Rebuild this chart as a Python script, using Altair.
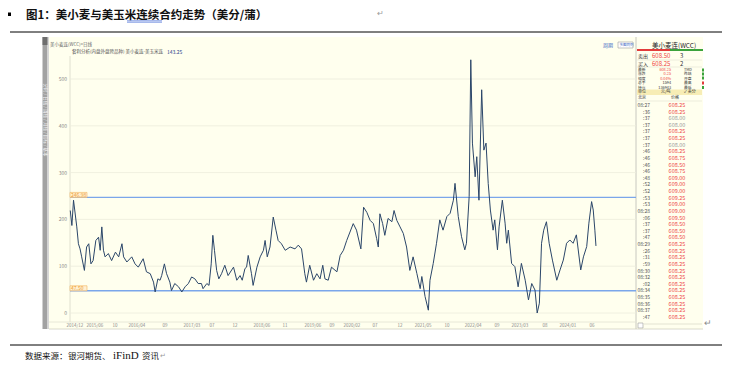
import altair as alt
import pandas as pd

# ---------------- data ----------------
t = [2014.83, 2014.86, 2014.89, 2014.95, 2014.98, 2015.01, 2015.04, 2015.09, 2015.13, 2015.17,
     2015.21, 2015.25, 2015.30, 2015.35, 2015.38, 2015.41, 2015.44, 2015.47, 2015.53, 2015.59,
     2015.66, 2015.72, 2015.78, 2015.81, 2015.87, 2015.96, 2016.02, 2016.08, 2016.17, 2016.23,
     2016.30, 2016.36, 2016.39, 2016.44, 2016.48, 2016.51, 2016.56, 2016.60, 2016.66, 2016.69,
     2016.75, 2016.82, 2016.88, 2016.94, 2017.00, 2017.06, 2017.12, 2017.18, 2017.24, 2017.27,
     2017.34, 2017.38, 2017.42, 2017.45, 2017.48, 2017.52, 2017.56, 2017.61, 2017.67, 2017.73,
     2017.83, 2017.89, 2017.95, 2017.99, 2018.04, 2018.07, 2018.10, 2018.16, 2018.19, 2018.26,
     2018.32, 2018.38, 2018.41, 2018.45, 2018.50, 2018.56, 2018.61, 2018.65, 2018.71, 2018.78,
     2018.87, 2018.96, 2019.02, 2019.08, 2019.14, 2019.17, 2019.23, 2019.30, 2019.36, 2019.42,
     2019.47, 2019.51, 2019.57, 2019.63, 2019.73, 2019.79, 2019.85, 2019.91, 2019.97, 2020.03,
     2020.09, 2020.17, 2020.22, 2020.28, 2020.34, 2020.40, 2020.46, 2020.49, 2020.52, 2020.57,
     2020.61, 2020.67, 2020.74, 2020.78, 2020.83, 2020.89, 2020.95, 2021.01, 2021.07, 2021.13,
     2021.20, 2021.26, 2021.29, 2021.35, 2021.41, 2021.44, 2021.50, 2021.56, 2021.62, 2021.68,
     2021.75, 2021.81, 2021.87, 2021.90, 2021.96, 2022.02, 2022.08, 2022.11, 2022.16, 2022.19,
     2022.22, 2022.27, 2022.30, 2022.34, 2022.39, 2022.43, 2022.47, 2022.51, 2022.55, 2022.60,
     2022.63, 2022.68, 2022.71, 2022.77, 2022.82, 2022.85, 2022.88, 2022.94, 2023.00, 2023.06,
     2023.12, 2023.19, 2023.25, 2023.31, 2023.37, 2023.41, 2023.45, 2023.49, 2023.53, 2023.58,
     2023.63, 2023.69, 2023.77, 2023.83, 2023.89, 2023.95, 2024.01, 2024.07, 2024.13, 2024.21,
     2024.26, 2024.32, 2024.36, 2024.41, 2024.44, 2024.47, 2024.49]
spread = [219, 187, 241, 184, 148, 137, 120, 91, 141, 148,
          105, 112, 155, 162, 134, 184, 134, 120, 127, 112,
          130, 120, 148, 120, 109, 120, 105, 98, 116, 88,
          84, 66, 45, 73, 70, 80, 105, 84, 66, 48,
          63, 56, 45, 56, 63, 77, 73, 63, 63, 52,
          63, 59, 105, 166, 134, 91, 73, 84, 102, 80,
          98, 70, 80, 70, 95, 98, 123, 84, 59, 98,
          120, 134, 155, 120, 141, 205, 177, 155, 148, 134,
          141, 137, 145, 137, 84, 66, 102, 70, 84, 73,
          102, 73, 70, 98, 88, 123, 134, 155, 173, 191,
          177, 137, 226, 215, 198, 191, 159, 141, 212, 191,
          166, 202, 195, 219, 198, 184, 170, 141, 91, 120,
          84, 52, 78, 35, 6, 70, 106, 149, 199, 177,
          206, 213, 241, 277, 206, 163, 135, 149, 249, 541,
          363, 291, 334, 241, 477, 348, 363, 277, 220, 177,
          199, 135, 184, 241, 192, 149, 177, 106, 99, 56,
          106, 70, 28, 63, 49, 0, 21, 149, 177, 195,
          149, 113, 70, 92, 113, 149, 156, 149, 167, 92,
          120, 142, 192, 238, 220, 177, 143.25]

y_ticks = [0, 100, 200, 300, 400, 500]
ref_values = [246.98, 47.50]
ref_labels = ["246.98", "47.50"]

x_tick_pos = [2014.917, 2015.284, 2015.652, 2016.056, 2016.571, 2017.067, 2017.434, 2017.857,
              2018.353, 2018.776, 2019.290, 2019.639, 2020.007, 2020.430, 2020.889, 2021.312,
              2021.753, 2022.231, 2022.672, 2023.094, 2023.553, 2023.976, 2024.417]
x_tick_text = ["2014/12", "2015/06", "10", "2016/04", "09", "2017/03", "07", "12",
               "2018/06", "11", "2019/06", "09", "2020/02", "07", "12", "2021/05",
               "10", "2022/04", "09", "2023/03", "08", "2024/01", "06"]

quote_names = ["最新", "涨跌", "幅度", "总手", "持仓"]
quote_vals = ["608.25", "0.25", "0.04%", "1594", "136943"]
quote_right = ["TMD", "昨结", "开盘", "最高", "最低"]
tick_times = ["08:27", ":36", ":37", ":37", ":37", ":37", ":37", ":46", ":46", ":46", ":46",
              ":48", ":52", ":52", ":53", ":53", "08:28", ":06", ":37", ":37", ":47", "08:29",
              ":26", ":31", ":59", "08:30", "08:32", ":02", "08:34", "08:35", "08:36", "08:37", ":47"]
tick_prices = ["608.25", "608.25", "608.00", "608.00", "608.25", "608.25", "608.00", "608.25",
               "608.75", "608.50", "608.75", "609.00", "609.00", "609.00", "609.25", "609.00",
               "609.00", "609.50", "608.50", "608.50", "608.50", "608.25", "608.25", "608.25",
               "608.25", "608.25", "608.25", "608.25", "608.25", "608.25", "608.25", "608.25",
               "608.25"]

# ---------------- layout helpers ----------------
W, H = 714, 352
OFF = 8  # page margin
FONT = "Noto Sans CJK SC"
SERIF = "Liberation Serif"
XS = alt.Scale(domain=[2013.686, 2026.806], nice=False, zero=False)
YS = alt.Scale(domain=[-100.4, 651.7], nice=False, zero=False)


def rects(rows, stroke=None):
    df = pd.DataFrame(rows, columns=["x", "y", "x2", "y2", "c"])
    for k in ["x", "x2", "y", "y2"]:
        df[k] = df[k] - OFF
    kw = {} if stroke is None else {"stroke": stroke, "strokeWidth": 0.6}
    return alt.Chart(df).mark_rect(**kw).encode(
        x=alt.X("x:Q", scale=None, axis=None), x2="x2:Q",
        y=alt.Y("y:Q", scale=None, axis=None), y2="y2:Q",
        color=alt.Color("c:N", scale=None))


def segs(rows, dash=None):
    df = pd.DataFrame(rows, columns=["x", "y", "x2", "y2", "c", "w"])
    for k in ["x", "x2", "y", "y2"]:
        df[k] = df[k] - OFF
    kw = {} if dash is None else {"strokeDash": dash}
    return alt.Chart(df).mark_rule(**kw).encode(
        x=alt.X("x:Q", scale=None, axis=None), x2="x2:Q",
        y=alt.Y("y:Q", scale=None, axis=None), y2="y2:Q",
        color=alt.Color("c:N", scale=None),
        strokeWidth=alt.StrokeWidth("w:Q", scale=None))


def texts(rows, align="left", weight="normal", font=FONT, angle=0):
    df = pd.DataFrame(rows, columns=["x", "y", "t", "c", "s"])
    df["x"] = df["x"] - OFF
    df["y"] = df["y"] - OFF
    return alt.Chart(df).mark_text(align=align, baseline="middle", font=font,
                                   fontWeight=weight, angle=angle).encode(
        x=alt.X("x:Q", scale=None, axis=None), y=alt.Y("y:Q", scale=None, axis=None),
        text="t:N", color=alt.Color("c:N", scale=None), size=alt.Size("s:Q", scale=None))


YEL = "#FFFFEE"
RED = "#EE4444"
GRID = "#ECECDC"

layers = []

# backgrounds
layers.append(rects([
    (49, 37, 703, 329, YEL),
    (42.5, 37, 47.5, 329, "#A2A2A2"),
    (47.5, 37, 49, 329, "#D6D6D6"),
    (42.5, 37, 47.5, 45, "#6E6E6E"),
    (637, 49, 670, 51, "#E23B3B"),
    (670, 49, 703, 51, "#3BA33B"),
    (637, 89.5, 702, 95, "#F7EDB5"),
    (702, 68.5, 704, 71.5, "#3BA33B"),
    (702, 72.5, 704, 75.5, "#3BA33B"),
    (702, 76.5, 704, 79.5, "#3BA33B"),
    (702, 81.5, 704, 84.5, "#E23B3B"),
    (702, 86, 704, 89, "#3BA33B"),
]))
layers.append(rects([(618, 42, 633, 48, "#FFFFFF"), (638, 323, 643, 328, "#FFFFFF")], stroke="#9A9A9A"))

# document lines / frame lines
layers.append(segs([
    (10, 32, 722, 32, "#000000", 1),
    (10, 345, 722, 345, "#000000", 1),
    (636, 37, 636, 329, "#C8C8C0", 1),
    (70, 56, 70, 322, "#D8D8C8", 0.8),
    (49, 322, 636, 322, "#E2E2D2", 0.8),
    (49, 329, 703, 329, "#D0D0C0", 0.8),
    (637, 60, 702, 60, "#E0E0D0", 0.6),
    (637, 67, 702, 67, "#E0E0D0", 0.6),
    (637, 101, 702, 101, "#E0E0D0", 0.6),
    (644, 324, 702, 324, "#D0D0C0", 0.6),
    (127, 20.8, 162, 20.8, "#4A6FD8", 0.7),
    (127, 22.2, 162, 22.2, "#4A6FD8", 0.7),
]))
layers.append(segs([(113, 360.5, 139, 360.5, "#E03030", 1)], dash=[1.5, 1]))

# gridlines
grid_df = pd.DataFrame({"v": y_ticks})
layers.append(alt.Chart(grid_df).mark_rule(color=GRID, strokeWidth=0.8).encode(
    y=alt.Y("v:Q", scale=YS, axis=None), x=alt.value(70 - OFF), x2=alt.value(636 - OFF)))
layers.append(alt.Chart(grid_df).mark_text(align="right", baseline="middle", font=FONT,
                                           fontSize=5, color="#8A8A8A").encode(
    y=alt.Y("v:Q", scale=YS, axis=None), x=alt.value(67 - OFF), text="v:N"))

# reference lines
ref_df = pd.DataFrame({"v": ref_values, "lab": ref_labels})
ref_df["top"] = ref_df["v"] + 5.0 / 0.468
layers.append(alt.Chart(ref_df).mark_rule(color="#7BA6EA", strokeWidth=1.4).encode(
    y=alt.Y("v:Q", scale=YS, axis=None), x=alt.value(70 - OFF), x2=alt.value(636 - OFF)))
layers.append(alt.Chart(ref_df).mark_rect(fill="#FFF1D2", stroke="#F4B35A", strokeWidth=0.6).encode(
    y=alt.Y("v:Q", scale=YS, axis=None), y2="top:Q",
    x=alt.value(70 - OFF), x2=alt.value(87 - OFF)))
layers.append(alt.Chart(ref_df).mark_text(align="left", baseline="middle", font=FONT,
                                          fontSize=5, color="#EE9A2E", dy=-2.5).encode(
    y=alt.Y("v:Q", scale=YS, axis=None), x=alt.value(71 - OFF), text="lab:N"))

# the series
line_df = pd.DataFrame({"t": t, "v": spread})
layers.append(alt.Chart(line_df).mark_line(color="#2B4669", strokeWidth=1).encode(
    x=alt.X("t:Q", scale=XS, axis=None), y=alt.Y("v:Q", scale=YS, axis=None)))

# x tick labels
xt_df = pd.DataFrame({"p": x_tick_pos, "lab": x_tick_text})
layers.append(alt.Chart(xt_df).mark_text(align="center", baseline="middle", font=FONT,
                                         fontSize=4.5, color="#8A8A8A").encode(
    x=alt.X("p:Q", scale=XS, axis=None), y=alt.value(325.5 - OFF), text="lab:N"))

# document texts
layers.append(rects([(8, 12.5, 11, 16, "#000000")]))
layers.append(texts([(26, 16.2, "图1：美小麦与美玉米连续合约走势（美分/蒲）", "#111111", 11.5)], weight="bold"))
layers.append(texts([
    (377, 14, "↵", "#9A9A9A", 8),
    (25, 355.5, "数据来源：", "#111111", 8.5),
    (68, 355.5, "银河期货、", "#111111", 8.5),
    (142, 355.5, "资讯", "#111111", 8.5),
    (160, 355.5, "↵", "#9A9A9A", 7),
    (704, 323, "↵", "#8A8A8A", 9),
]))
layers.append(texts([(113, 355.5, "iFinD", "#111111", 11)], font=SERIF))

# chart header texts
layers.append(texts([
    (50, 44.5, "美小麦连(WCC)>日线", "#666666", 4.5),
    (72, 51.5, "套利分析(内盘外盘跨品种) 美小麦连-美玉米连", "#555555", 4.5),
    (167, 51.5, "143.25", "#2B3F8C", 5),
    (603, 45, "周期", "#3A66C4", 5),
    (619.5, 45, "多图同列", "#3A66C4", 3.5),
]))
layers.append(texts([(45, 120, "分时 / 日线 / 周线 / 月线 / 指标 / 基本", "#EFEFEF", 4.5)],
                    angle=90, align="center"))

# right quote panel
panel = [
    (652, 45.5, "美小麦连(WCC)", "#222222", 6.5),
    (638, 56, "卖出", "#333333", 5),
    (652, 56, "608.50", RED, 6),
    (680, 56, "3", "#333333", 6),
    (638, 63.5, "买入", "#333333", 5),
    (652, 63.5, "608.25", RED, 6),
    (680, 63.5, "2", "#333333", 6),
]
for i, (nm, rt) in enumerate(zip(quote_names, quote_right)):
    yy = 70 + i * 4.4
    panel.append((638, yy, nm, "#333333", 3.8))
    panel.append((684, yy, rt, "#333333", 3.8))
panel += [
    (638, 92.3, "单位", "#333333", 4),
    (661, 92.3, "元/吨", "#333333", 4),
    (684, 92.3, "✓ 美分", "#333333", 4),
    (638, 98, "北京", "#333333", 4),
    (671, 98, "价格", "#333333", 4),
]
layers.append(texts(panel))
panel_right = [(671, 70 + i * 4.4, v, RED if i < 3 else "#333333", 3.8) for i, v in enumerate(quote_vals)]
layers.append(texts(panel_right, align="right"))

times_rows = [(650, 105 + i * 6.62, tm, "#555555", 5) for i, tm in enumerate(tick_times)]
layers.append(texts(times_rows, align="right"))
price_rows = [(677, 105 + i * 6.62, p, "#9A9A9A" if p == "608.00" else RED, 5.5)
              for i, p in enumerate(tick_prices)]
layers.append(texts(price_rows, align="center"))

chart = alt.layer(*layers).resolve_scale(
    x="independent", y="independent", color="independent", size="independent",
    strokeWidth="independent"
).properties(
    width=W, height=H, autosize=alt.AutoSizeParams(type="none"), padding=0,
    background="#FFFFFF"
).configure_view(stroke=None)

chart.save("out.html", embed_options={"renderer": "svg", "actions": False})
